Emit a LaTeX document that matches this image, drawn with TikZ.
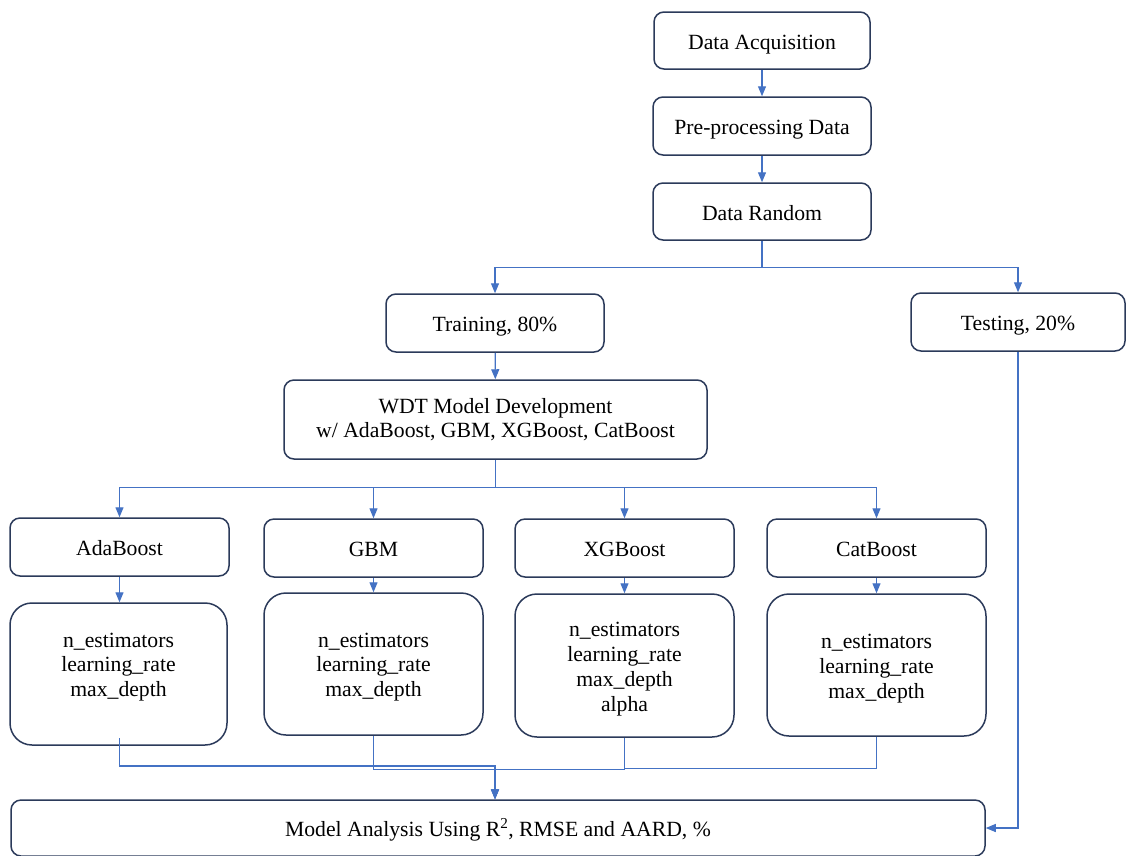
\documentclass[tikz,border=0pt]{standalone}
\usepackage{fontspec}
\setmainfont{Liberation Serif}
\usetikzlibrary{arrows.meta,calc}
\definecolor{boxline}{HTML}{2B3A5A}
\definecolor{conn}{HTML}{4472C4}
\begin{document}
\begin{tikzpicture}[x=1pt,y=-1pt,
  box/.style={draw=boxline,line width=1.5pt,rounded corners=10pt,inner sep=0pt,
    font=\fontsize{21.7}{24.5}\selectfont,align=center},
  one/.style={box,text height=22pt,text depth=5pt},
  pbox/.style={box,rounded corners=22pt},
  txt/.style={inner sep=0pt,font=\fontsize{21.7}{24.8}\selectfont,align=center},
  link/.style={draw=conn,line width=1.2pt,-{Triangle[length=10pt,width=8pt]}},
  plain/.style={draw=conn,line width=1.2pt}]
\clip (0,0) rectangle (1126,855);
\useasboundingbox (0,0) rectangle (1126,855);
\fill[white] (0,0) rectangle (1126,855);
% top chain
\node[one,minimum width=216pt,minimum height=57pt] (da) at (762,40.5) {Data Acquisition};
\node[one,minimum width=218pt,minimum height=58pt] (pp) at (762,126) {Pre-processing Data};
\node[one,minimum width=218pt,minimum height=57pt] (dr) at (762,211.5) {Data Random};
\node[one,minimum width=218pt,minimum height=58pt] (tr) at (495,323) {Training, 80\%};
\node[one,minimum width=214pt,minimum height=58pt] (te) at (1018,322) {Testing, 20\%};
\node[box,minimum width=423pt,minimum height=79pt] (wdt) at (495.5,419.5) {WDT Model Development\\w/ AdaBoost, GBM, XGBoost, CatBoost};
% algorithm boxes
\node[one,minimum width=219pt,minimum height=58pt] (ab) at (119.5,547) {AdaBoost};
\node[one,minimum width=219pt,minimum height=58pt] (gb) at (373.5,548) {GBM};
\node[one,minimum width=219pt,minimum height=58pt] (xb) at (624.5,548) {XGBoost};
\node[one,minimum width=219pt,minimum height=58pt] (cb) at (876.5,548) {CatBoost};
% parameter boxes
\node[pbox,minimum width=217pt,minimum height=142pt] (ap) at (118.5,674) {};
\node[pbox,minimum width=219pt,minimum height=142pt] (gp) at (373.5,664) {};
\node[pbox,minimum width=219pt,minimum height=143pt] (xp) at (624.5,665.5) {};
\node[pbox,minimum width=219pt,minimum height=142pt] (cp) at (876.5,665) {};
\node[txt] (apt) at (118.5,667) {n\_estimators\\learning\_rate\\max\_depth};
\node[txt] (gpt) at (373.5,667) {n\_estimators\\learning\_rate\\max\_depth};
\node[txt] (xpt) at (624.5,669) {n\_estimators\\learning\_rate\\max\_depth\\alpha};
\node[txt] (cpt) at (876.5,668.5) {n\_estimators\\learning\_rate\\max\_depth};
% analysis box
\node[one,minimum width=974pt,minimum height=56pt] (ma) at (498,828) {Model Analysis Using R\textsuperscript{2}, RMSE and AARD, \%};
\coordinate (join) at (tr.south |- ma.north);
% connectors
\draw[link] (da) -- (pp);
\draw[link] (pp) -- (dr);
\draw[link] (dr.south) -- ++(0,27) -| (tr.north);
\draw[link] (dr.south) -- ++(0,27) -| (te.north);
\draw[link] (tr) -- (wdt);
\draw[link] (wdt.south) -- ++(0,28) -| (ab.north);
\draw[link] (wdt.south) -- ++(0,28) -| (gb.north);
\draw[link] (wdt.south) -- ++(0,28) -| (xb.north);
\draw[link] (wdt.south) -- ++(0,28) -| (cb.north);
\draw[link] (ab) -- (ab |- ap.north);
\draw[link] (gb) -- (gb |- gp.north);
\draw[link] (xb) -- (xb |- xp.north);
\draw[link] (cb) -- (cb |- cp.north);
\draw[link] (ab.south |- 0,738) -- (ab.south |- 0,766) -| (join);
\draw[link] (gp.south) -- ++(0,34) -| (join);
\draw[link] (xp.south) -- ++(0,32) -| (join);
\draw[plain] (cp.south) -- ++(0,32) -| (xp.south |- 0,769);
\draw[link] (te.south) |- (ma.east);
\end{tikzpicture}
\end{document}
